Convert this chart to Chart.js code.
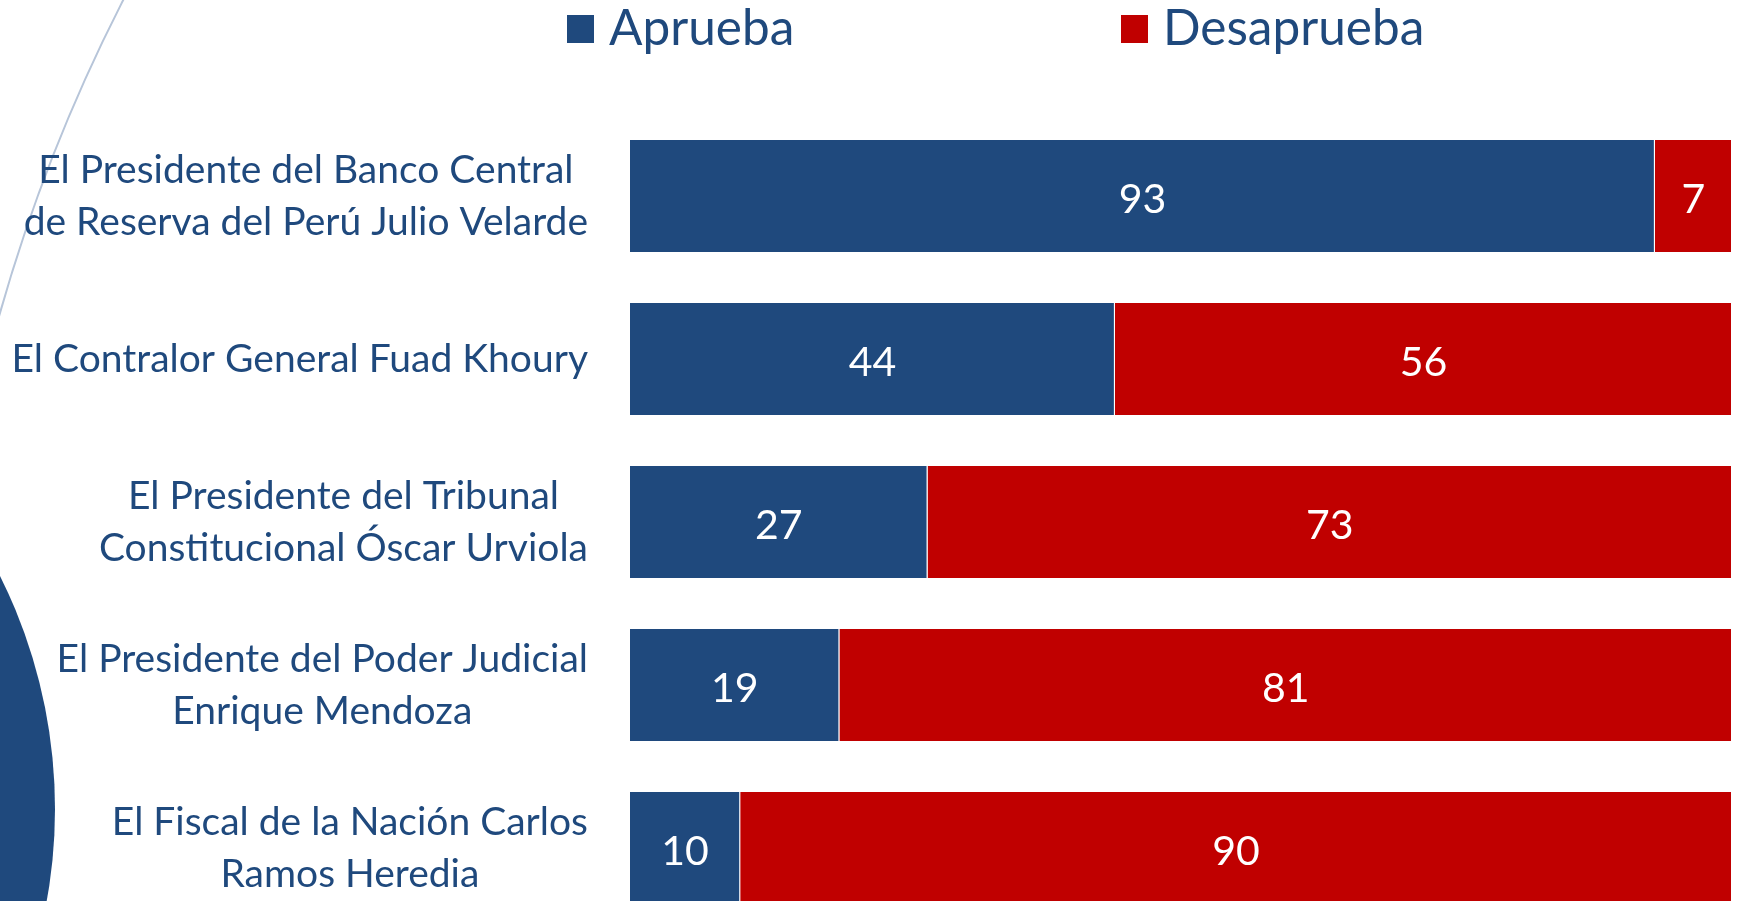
<!DOCTYPE html>
<html>
<head>
<meta charset="utf-8">
<script src="https://cdn.jsdelivr.net/npm/chart.js@4/dist/chart.umd.min.js"></script>
<style>
  html, body { margin: 0; padding: 0; background: #ffffff; overflow: hidden; }
  #wrap { position: absolute; left: 0; top: 0; width: 1737px; height: 940px; }
</style>
</head>
<body>
<div id="wrap"><canvas id="c" width="1737" height="940"></canvas></div>
<script>
// ---- data ----
const categories = [
  ["El Presidente del Banco Central", "de Reserva del Perú Julio Velarde"],
  ["El Contralor General Fuad Khoury"],
  ["El Presidente del Tribunal", "Constitucional Óscar Urviola"],
  ["El Presidente del Poder Judicial", "Enrique Mendoza"],
  ["El Fiscal de la Nación Carlos", "Ramos Heredia"]
];
const seriesNames = ["Aprueba", "Desaprueba"];
const aprueba = [93, 44, 27, 19, 10];
const desaprueba = [7, 56, 73, 81, 90];

// ---- styles ----
const BLUE = "#1F497D";
const RED = "#C00000";
const TEXT = "#1F497D";
const FONT = "Lato, 'Open Sans', sans-serif";

const decorPlugin = {
  id: "decor",
  beforeDraw(chart) {
    const ctx = chart.ctx;
    ctx.save();
    // thin arc top-left
    ctx.beginPath();
    ctx.arc(1643, 779.5, 1708, Math.PI * 0.9, Math.PI * 1.4);
    ctx.strokeStyle = "#B7C5D9";
    ctx.lineWidth = 2;
    ctx.stroke();
    // big circle bottom-left
    ctx.beginPath();
    ctx.arc(-466, 809, 521, 0, Math.PI * 2);
    ctx.fillStyle = BLUE;
    ctx.fill();
    ctx.restore();
  }
};

const labelsPlugin = {
  id: "catLabels",
  afterDraw(chart) {
    const ctx = chart.ctx;
    const y = chart.scales.y;
    ctx.save();
    ctx.fillStyle = TEXT;
    ctx.font = "39px " + FONT;
    ctx.textAlign = "center";
    ctx.textBaseline = "middle";
    const right = 588, lh = 52;
    chart.data.labels.forEach((lab, i) => {
      const lines = Array.isArray(lab) ? lab : [lab];
      const w = Math.max(...lines.map(l => ctx.measureText(l).width));
      const cx = right - w / 2;
      const cy = y.getPixelForTick(i);
      const y0 = cy - (lines.length - 1) * lh / 2;
      lines.forEach((l, k) => ctx.fillText(l, cx, y0 + k * lh));
    });
    // legend
    ctx.textAlign = "left";
    ctx.textBaseline = "alphabetic";
    ctx.font = "49.5px " + FONT;
    const legendPos = [[567, 609], [1121, 1163]];
    chart.data.datasets.forEach((ds, i) => {
      ctx.fillStyle = ds.backgroundColor;
      ctx.fillRect(legendPos[i][0], 15, 27, 28);
      ctx.fillStyle = TEXT;
      ctx.fillText(ds.label, legendPos[i][1], 45);
    });
    ctx.restore();
  },
  afterDatasetsDraw(chart) {
    const ctx = chart.ctx;
    ctx.save();
    ctx.fillStyle = "#ffffff";
    ctx.font = "41px " + FONT;
    ctx.textAlign = "center";
    ctx.textBaseline = "middle";
    chart.data.datasets.forEach((ds, di) => {
      const meta = chart.getDatasetMeta(di);
      meta.data.forEach((bar, i) => {
        const p = bar.getProps(["x", "y", "base"], true);
        ctx.fillText(String(ds.data[i]), (p.x + p.base) / 2, p.y + 4);
      });
    });
    ctx.restore();
  }
};

new Chart(document.getElementById("c"), {
  type: "bar",
  data: {
    labels: categories,
    datasets: [
      { label: seriesNames[0], data: aprueba, backgroundColor: BLUE, borderColor: "#ffffff", borderWidth: 1 },
      { label: seriesNames[1], data: desaprueba, backgroundColor: RED, borderColor: "#ffffff", borderWidth: 1 }
    ]
  },
  options: {
    indexAxis: "y",
    responsive: false,
    animation: false,
    events: [],
    layout: { padding: { left: 630, right: 5, top: 114.5, bottom: 10.5 } },
    datasets: { bar: { categoryPercentage: 1.0, barPercentage: 0.70 } },
    scales: {
      x: { stacked: true, min: 0, max: 100, display: false },
      y: { stacked: true, display: false }
    },
    plugins: { legend: { display: false }, tooltip: { enabled: false } }
  },
  plugins: [decorPlugin, labelsPlugin]
});
</script>
</body>
</html>
